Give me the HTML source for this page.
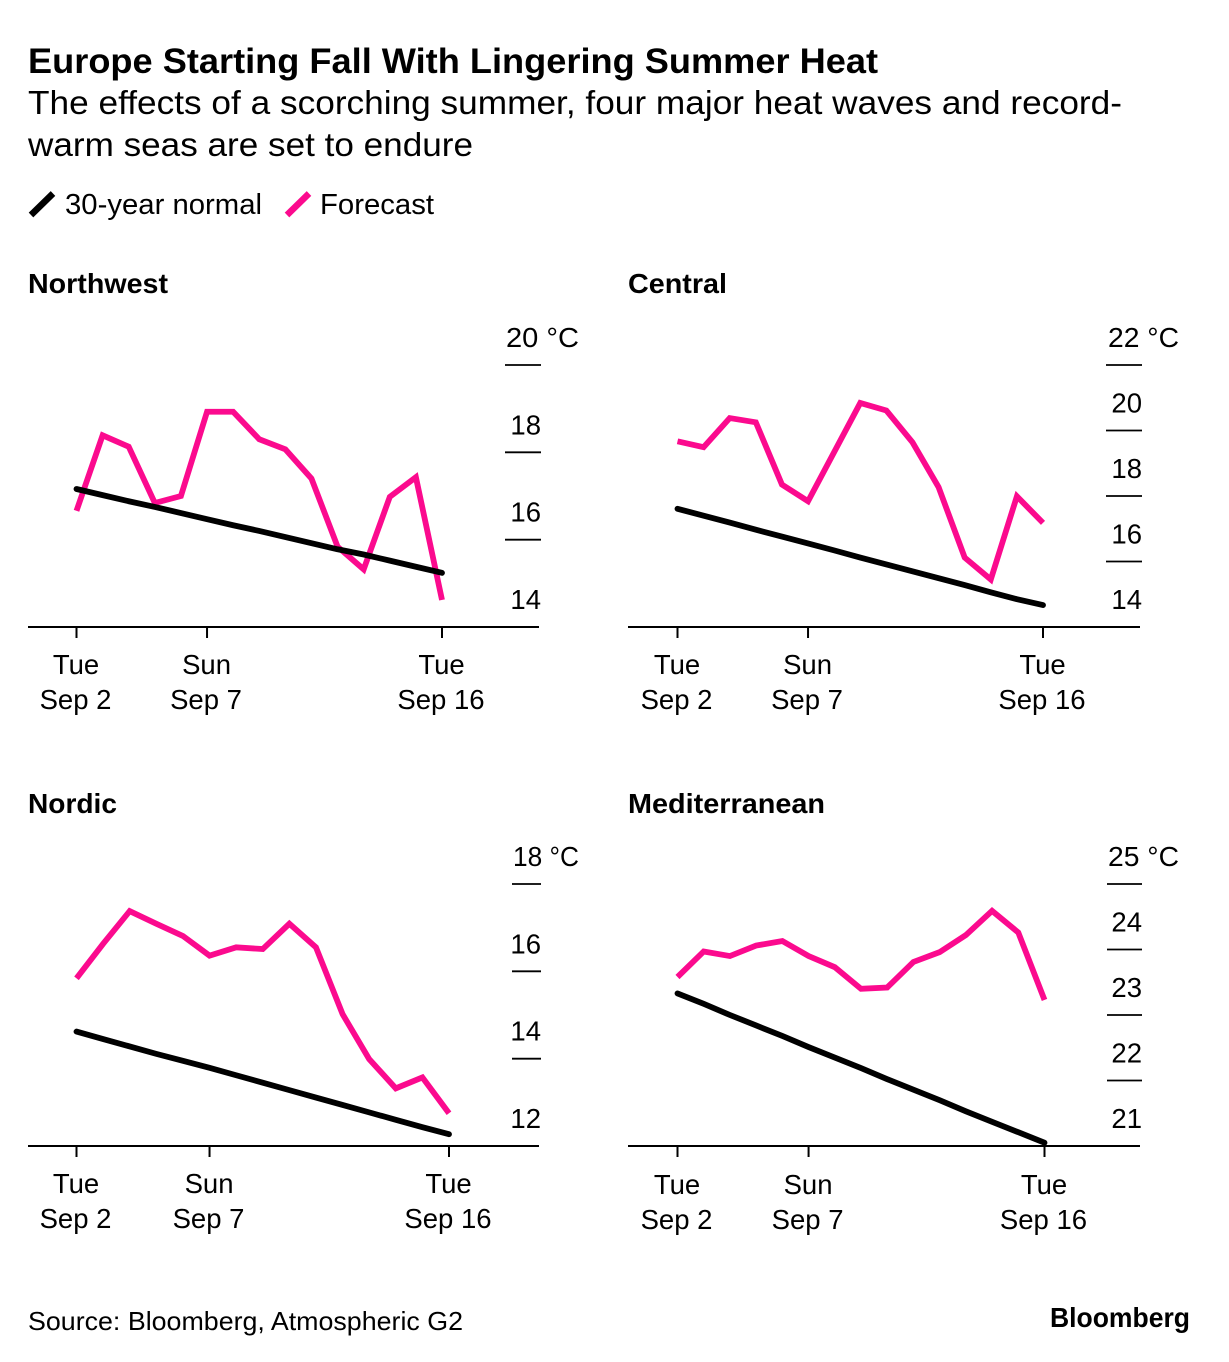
<!DOCTYPE html>
<html lang="en">
<head>
<meta charset="utf-8">
<title>Europe Starting Fall With Lingering Summer Heat</title>
<style>
  html, body { margin: 0; padding: 0; background: #fff; }
  body { width: 1229px; height: 1362px; overflow: hidden; }
  svg { display: block; }
  text { font-family: "Liberation Sans", sans-serif; fill: #000; }
  .panel-title { font-size: 28px; font-weight: 700; }
  .tick { font-size: 27.5px; }
</style>
</head>
<body>
<svg id="chart" width="1229" height="1362" viewBox="0 0 1229 1362" xmlns="http://www.w3.org/2000/svg">
  <rect x="0" y="0" width="1229" height="1362" fill="#fff"/>
  <text x="28" y="73" font-size="35" font-weight="700" textLength="850" lengthAdjust="spacingAndGlyphs">Europe Starting Fall With Lingering Summer Heat</text>
  <text x="28" y="114" font-size="33" textLength="1094" lengthAdjust="spacingAndGlyphs">The effects of a scorching summer, four major heat waves and record-</text>
  <text x="28" y="156" font-size="33" textLength="445" lengthAdjust="spacingAndGlyphs">warm seas are set to endure</text>

  <g>
    <line x1="31" y1="215" x2="53" y2="193.5" stroke="#000" stroke-width="6.5"/>
    <text x="65" y="214" font-size="28.5" textLength="197" lengthAdjust="spacingAndGlyphs">30-year normal</text>
    <line x1="287" y1="215" x2="309" y2="193.5" stroke="#fb0a8e" stroke-width="6.5"/>
    <text x="320" y="214" font-size="28.5" textLength="114" lengthAdjust="spacingAndGlyphs">Forecast</text>
  </g>

  <text class="panel-title" x="28" y="293" textLength="140" lengthAdjust="spacingAndGlyphs">Northwest</text>
  <text class="panel-title" x="628" y="293" textLength="99" lengthAdjust="spacingAndGlyphs">Central</text>
  <text class="panel-title" x="28" y="813" textLength="89" lengthAdjust="spacingAndGlyphs">Nordic</text>
  <text class="panel-title" x="628" y="813" textLength="197" lengthAdjust="spacingAndGlyphs">Mediterranean</text>

  <text x="28" y="1330" font-size="26" textLength="435" lengthAdjust="spacingAndGlyphs">Source: Bloomberg, Atmospheric G2</text>
  <text x="1050" y="1327" font-size="28" font-weight="700" textLength="140" lengthAdjust="spacingAndGlyphs">Bloomberg</text>
</svg>

<script>
// ---- Data ----
const days = [2, 3, 4, 5, 6, 7, 8, 9, 10, 11, 12, 13, 14, 15, 16];
const xTickDays = [2, 7, 16];
const xTickWeekdays = ["Tue", "Sun", "Tue"];
const xTickDates = ["Sep 2", "Sep 7", "Sep 16"];

const northwestForecast = [16.66, 18.39, 18.13, 16.84, 17.0, 18.93, 18.93, 18.30, 18.07, 17.40, 15.84, 15.32, 16.98, 17.43, 14.62];
const northwestNormal = [17.16, 17.02, 16.88, 16.75, 16.61, 16.47, 16.33, 16.2, 16.06, 15.92, 15.78, 15.66, 15.52, 15.38, 15.24];
const northwestTicks = [14, 16, 18, 20];

const centralForecast = [19.67, 19.49, 20.38, 20.25, 18.35, 17.84, 19.34, 20.84, 20.61, 19.64, 18.27, 16.12, 15.45, 17.99, 17.18];
const centralNormal = [17.61, 17.40, 17.19, 16.97, 16.76, 16.55, 16.34, 16.12, 15.91, 15.70, 15.49, 15.28, 15.06, 14.85, 14.67];
const centralTicks = [14, 16, 18, 20, 22];

const nordicForecast = [15.84, 16.63, 17.38, 17.09, 16.81, 16.36, 16.55, 16.51, 17.09, 16.55, 15.02, 13.99, 13.32, 13.57, 12.75];
const nordicNormal = [14.62, 14.45, 14.28, 14.11, 13.95, 13.79, 13.62, 13.45, 13.28, 13.11, 12.94, 12.77, 12.6, 12.43, 12.27];
const nordicTicks = [12, 14, 16, 18];

const mediterraneanForecast = [23.58, 23.97, 23.90, 24.06, 24.13, 23.90, 23.73, 23.40, 23.42, 23.81, 23.96, 24.22, 24.59, 24.26, 23.23];
const mediterraneanNormal = [23.33, 23.17, 23.0, 22.84, 22.68, 22.51, 22.35, 22.19, 22.02, 21.86, 21.7, 21.53, 21.37, 21.21, 21.05];
const mediterraneanTicks = [21, 22, 23, 24, 25];

// ---- Drawing ----
const SVG_NS = "http://www.w3.org/2000/svg";
const root = document.getElementById("chart");

function make(tag, attrs, parent) {
  const el = document.createElementNS(SVG_NS, tag);
  for (const k in attrs) el.setAttribute(k, attrs[k]);
  parent.appendChild(el);
  return el;
}

function drawPanel(key, forecast, normal, ticks, box) {
  const x = d => box.xStart + (d - days[0]) * (box.xEnd - box.xStart) / (days[days.length - 1] - days[0]);
  const vMin = ticks[0];
  const vMax = ticks[ticks.length - 1];
  const y = v => box.yBase - (v - vMin) * (box.yBase - box.yTop) / (vMax - vMin);

  const g = make("g", {}, root);
  
  

  ticks.forEach((t, i) => {
    const yy = y(t);
    if (i > 0) {
      const tickLine = make("line", { x1: box.gridLeft, x2: box.gridRight, y1: yy, y2: yy, stroke: "#000", "stroke-width": 1.8 }, g);
      
      
    }
    const isTop = i === ticks.length - 1;
    const attrs = { class: "tick", x: isTop ? box.topLabelX : box.gridRight, y: yy - 18, "text-anchor": isTop ? "start" : "end" };
    if (isTop) {
      attrs.textLength = box.topLabelWidth;
      attrs.lengthAdjust = "spacingAndGlyphs";
    }
    const label = make("text", attrs, g);
    label.textContent = isTop ? t + " °C" : String(t);
    
    
  });

  const axis = make("line", { x1: box.axisLeft, x2: box.axisRight, y1: box.yBase, y2: box.yBase, stroke: "#000", "stroke-width": 2 }, g);
  
  

  xTickDays.forEach((d, i) => {
    const xx = x(d);
    const mark = make("line", { x1: xx, x2: xx, y1: box.yBase, y2: box.yBase + 11, stroke: "#000", "stroke-width": 2 }, g);
    
    

    const top = make("text", { class: "tick", x: xx - 0.5, y: box.labelY1, "text-anchor": "middle" }, g);
    top.textContent = xTickWeekdays[i];
    
    

    const bottom = make("text", { class: "tick", x: xx - 1, y: box.labelY2, "text-anchor": "middle" }, g);
    bottom.textContent = xTickDates[i];
    
    
  });

  const points = values => values.map((v, i) => x(days[i]).toFixed(2) + "," + y(v).toFixed(2)).join(" ");

  const forecastLine = make("polyline", { points: points(forecast), fill: "none", stroke: "#fb0a8e", "stroke-width": 5.8, "stroke-linejoin": "miter", "stroke-linecap": "butt" }, g);
  
  

  const normalLine = make("polyline", { points: points(normal), fill: "none", stroke: "#000", "stroke-width": 5.8, "stroke-linejoin": "round", "stroke-linecap": "round" }, g);
  
  
}

drawPanel("northwest", northwestForecast, northwestNormal, northwestTicks, {
  xStart: 76.5, xEnd: 442, yBase: 627, yTop: 365, axisLeft: 28, axisRight: 539,
  gridLeft: 505, gridRight: 541, topLabelX: 506, topLabelWidth: 73, labelY1: 674, labelY2: 709
});
drawPanel("central", centralForecast, centralNormal, centralTicks, {
  xStart: 677.5, xEnd: 1043, yBase: 627, yTop: 365, axisLeft: 628, axisRight: 1140,
  gridLeft: 1106, gridRight: 1142, topLabelX: 1108, topLabelWidth: 71, labelY1: 674, labelY2: 709
});
drawPanel("nordic", nordicForecast, nordicNormal, nordicTicks, {
  xStart: 76.5, xEnd: 449, yBase: 1146, yTop: 884, axisLeft: 28, axisRight: 539,
  gridLeft: 512, gridRight: 541, topLabelX: 513, topLabelWidth: 66, labelY1: 1193, labelY2: 1228
});
drawPanel("mediterranean", mediterraneanForecast, mediterraneanNormal, mediterraneanTicks, {
  xStart: 677.5, xEnd: 1044.5, yBase: 1146, yTop: 884, axisLeft: 628, axisRight: 1140,
  gridLeft: 1107, gridRight: 1142, topLabelX: 1108, topLabelWidth: 71, labelY1: 1194, labelY2: 1229
});
</script>
</body>
</html>
